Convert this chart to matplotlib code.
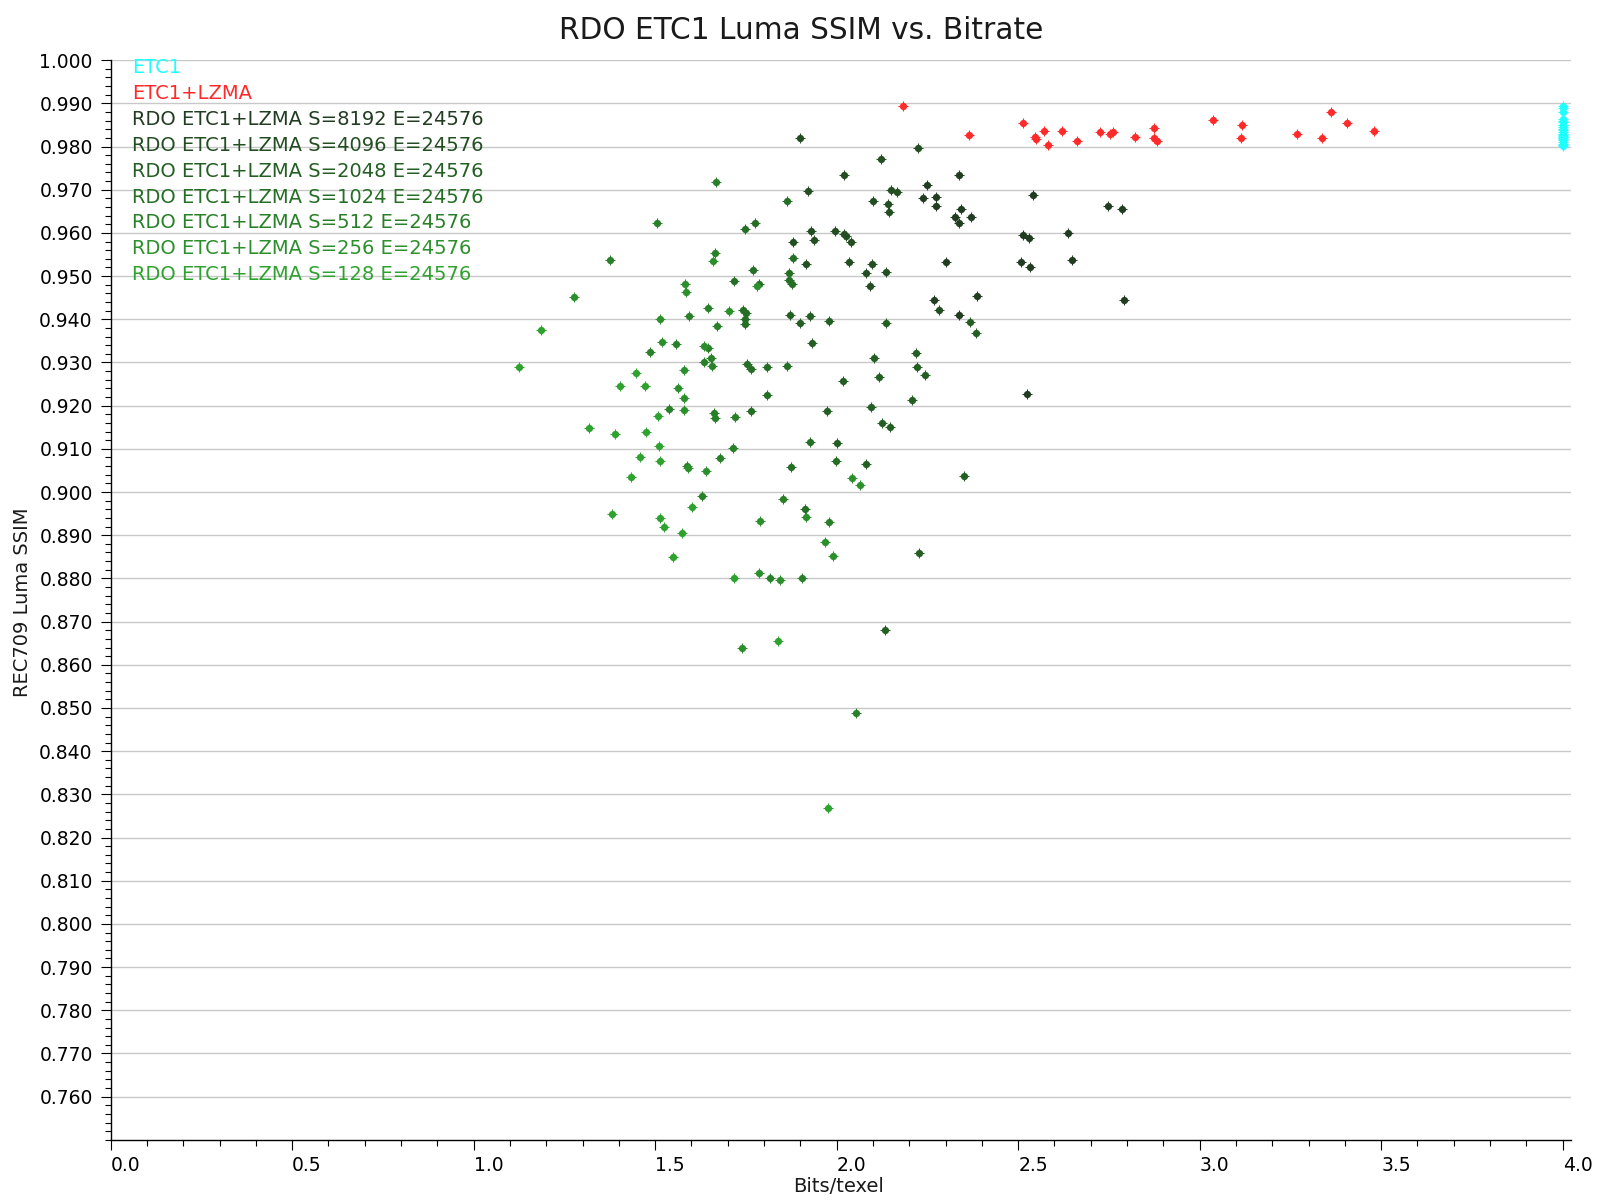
import matplotlib
matplotlib.use("Agg")
import matplotlib.pyplot as plt
from matplotlib.ticker import FixedLocator, MultipleLocator, FormatStrFormatter

# ---------------- data ----------------
etc1_x = [4.0, 4.0, 4.0, 4.0, 4.0, 4.0, 4.0, 4.0, 4.0, 4.0, 4.0, 4.0,
          4.0, 4.0, 4.0, 4.0, 4.0, 4.0, 4.0, 4.0, 4.0, 4.0, 4.0, 4.0]
etc1_y = [0.9893, 0.9890, 0.9881, 0.9863, 0.9860, 0.9857, 0.9851, 0.9850,
          0.9845, 0.9841, 0.9839, 0.9833, 0.9829, 0.9828, 0.9826, 0.9824,
          0.9822, 0.9819, 0.9817, 0.9815, 0.9811, 0.9807, 0.9804, 0.9801]

lzma_x = [2.183, 2.365, 2.514, 2.547, 2.550, 2.570, 2.583, 2.622, 2.661, 2.725,
          2.752, 2.762, 2.823, 2.875, 2.875, 2.883, 3.037, 3.117, 3.115, 3.269,
          3.336, 3.363, 3.407, 3.480]
lzma_y = [0.9893, 0.9826, 0.9854, 0.9821, 0.9818, 0.9835, 0.9803, 0.9837, 0.9812, 0.9833,
          0.9828, 0.9833, 0.9823, 0.9844, 0.9819, 0.9812, 0.9861, 0.9849, 0.9819, 0.9830,
          0.9819, 0.9881, 0.9854, 0.9835]

s8192_x = [2.542, 2.748, 2.787, 2.514, 2.531, 2.638, 2.508, 2.534, 2.647, 2.793,
           2.525, 2.338, 2.250, 2.239, 2.274, 2.274, 2.327, 2.338, 2.343, 2.371,
           2.302, 2.388, 2.268, 2.338]
s8192_y = [0.9687, 0.9663, 0.9656, 0.9596, 0.9589, 0.9601, 0.9533, 0.9522, 0.9538, 0.9445,
           0.9227, 0.9735, 0.9710, 0.9682, 0.9684, 0.9663, 0.9638, 0.9624, 0.9656, 0.9638,
           0.9533, 0.9455, 0.9445, 0.9410]

s4096_x = [1.900, 2.225, 2.123, 2.021, 1.922, 2.150, 2.167, 2.101, 2.142, 2.145,
           1.930, 1.996, 2.021, 2.026, 2.040, 1.880, 1.938, 1.916, 2.035, 2.096,
           2.080, 2.137, 2.093, 2.283]
s4096_y = [0.9819, 0.9796, 0.9772, 0.9735, 0.9698, 0.9700, 0.9694, 0.9673, 0.9668, 0.9649,
           0.9605, 0.9605, 0.9598, 0.9594, 0.9580, 0.9580, 0.9584, 0.9529, 0.9533, 0.9529,
           0.9508, 0.9510, 0.9478, 0.9422]

s2048_x = [2.368, 2.385, 2.208, 2.095, 2.352, 1.872, 1.900, 1.927, 1.933, 2.104,
           2.219, 2.228, 2.137, 2.222, 2.244, 2.117, 2.018, 2.126, 2.148, 2.082,
           1.980, 2.134, 1.974, 2.002]
s2048_y = [0.9394, 0.9369, 0.9213, 0.9197, 0.9037, 0.9410, 0.9392, 0.9408, 0.9345, 0.9311,
           0.9322, 0.8858, 0.9392, 0.9290, 0.9271, 0.9267, 0.9257, 0.9160, 0.9151, 0.9065,
           0.9397, 0.8680, 0.9188, 0.9113]

s1024_x = [1.864, 1.748, 1.776, 1.880, 1.869, 1.869, 1.878, 1.770, 1.718, 1.787,
           1.743, 1.751, 1.748, 1.748, 1.754, 1.765, 1.809, 1.864, 1.809, 1.765,
           1.927, 1.875, 1.999, 1.914]
s1024_y = [0.9673, 0.9608, 0.9624, 0.9543, 0.9508, 0.9492, 0.9482, 0.9515, 0.9489, 0.9482,
           0.9422, 0.9415, 0.9401, 0.9390, 0.9297, 0.9285, 0.9290, 0.9292, 0.9225, 0.9188,
           0.9116, 0.9058, 0.9072, 0.8960]

s512_x = [1.668, 1.506, 1.666, 1.376, 1.646, 1.594, 1.671, 1.558, 1.487, 1.646,
          1.655, 1.635, 1.657, 1.539, 1.663, 1.666, 1.721, 1.715, 1.588, 1.679,
          1.630, 1.853, 1.980, 1.817, 1.905, 2.054]
s512_y = [0.9717, 0.9624, 0.9554, 0.9538, 0.9427, 0.9408, 0.9385, 0.9343, 0.9325, 0.9334,
          0.9311, 0.9301, 0.9292, 0.9192, 0.9183, 0.9171, 0.9174, 0.9102, 0.9060, 0.9079,
          0.8990, 0.8984, 0.8930, 0.8800, 0.8800, 0.8489]

s256_x = [1.660, 1.277, 1.781, 1.583, 1.641, 1.586, 1.704, 1.514, 1.520, 1.635,
          1.580, 1.564, 1.580, 1.580, 1.591, 2.043, 2.065, 1.916, 1.790, 1.969,
          1.991, 1.787, 1.845, 1.740]
s256_y = [0.9536, 0.9452, 0.9478, 0.9482, 0.9048, 0.9464, 0.9420, 0.9401, 0.9348, 0.9338,
          0.9283, 0.9241, 0.9218, 0.9190, 0.9055, 0.9032, 0.9016, 0.8942, 0.8932, 0.8884,
          0.8851, 0.8812, 0.8796, 0.8638]

s128_x = [1.186, 1.126, 1.448, 1.404, 1.473, 1.509, 1.318, 1.390, 1.475, 1.511,
          1.459, 1.514, 1.434, 1.602, 1.382, 1.514, 1.525, 1.575, 1.550, 1.718,
          1.839, 1.977]
s128_y = [0.9376, 0.9290, 0.9276, 0.9246, 0.9246, 0.9176, 0.9148, 0.9134, 0.9139, 0.9107,
          0.9081, 0.9072, 0.9034, 0.8965, 0.8949, 0.8939, 0.8919, 0.8905, 0.8849, 0.8800,
          0.8654, 0.8269]

series_labels = ["ETC1", "ETC1+LZMA",
                 "RDO ETC1+LZMA S=8192 E=24576", "RDO ETC1+LZMA S=4096 E=24576",
                 "RDO ETC1+LZMA S=2048 E=24576", "RDO ETC1+LZMA S=1024 E=24576",
                 "RDO ETC1+LZMA S=512 E=24576", "RDO ETC1+LZMA S=256 E=24576",
                 "RDO ETC1+LZMA S=128 E=24576"]
series_colors = ["#20ffff", "#ff2a2a", "#223c22", "#224e22", "#235e23",
                 "#256e25", "#288028", "#2b902b", "#2ea22e"]
series_data = [(etc1_x, etc1_y), (lzma_x, lzma_y), (s8192_x, s8192_y),
               (s4096_x, s4096_y), (s2048_x, s2048_y), (s1024_x, s1024_y),
               (s512_x, s512_y), (s256_x, s256_y), (s128_x, s128_y)]

title = "RDO ETC1 Luma SSIM vs. Bitrate"
x_label = "Bits/texel"
y_label = "REC709 Luma SSIM"
x_ticks = [0.0, 0.5, 1.0, 1.5, 2.0, 2.5, 3.0, 3.5, 4.0]
y_ticks = [0.76, 0.77, 0.78, 0.79, 0.80, 0.81, 0.82, 0.83, 0.84, 0.85, 0.86, 0.87,
           0.88, 0.89, 0.90, 0.91, 0.92, 0.93, 0.94, 0.95, 0.96, 0.97, 0.98, 0.99, 1.00]

# ---------------- figure ----------------
plt.rcParams['font.family'] = ['DejaVu Sans']
W, H = 1600, 1200
fig = plt.figure(figsize=(16, 12), dpi=100)
ax = fig.add_axes([110.7 / W, 1 - 1139.8 / H, (1570.6 - 110.7) / W, (1139.8 - 60.2) / H])

ax.set_xlim(0.0, 4.022)
ax.set_ylim(0.75, 1.0)

for (xs, ys), col in zip(series_data, series_colors):
    ax.plot(xs, ys, linestyle='none', marker='o', ms=5.2, mfc=col, mec=col, mew=0, zorder=3)
    ax.plot(xs, ys, linestyle='none', marker='+', ms=7.0, mec=col, mew=0.8, zorder=3)

ax.yaxis.set_major_locator(FixedLocator(y_ticks))
ax.yaxis.set_minor_locator(MultipleLocator(0.002))
ax.yaxis.set_major_formatter(FormatStrFormatter('%.3f'))
ax.xaxis.set_major_locator(FixedLocator(x_ticks))
ax.xaxis.set_minor_locator(MultipleLocator(0.1))
ax.xaxis.set_major_formatter(FormatStrFormatter('%.1f'))

ax.grid(axis='y', which='major', color='#c8c8c8', linewidth=1.0, zorder=0)
ax.set_axisbelow(True)
for side in ('top', 'right'):
    ax.spines[side].set_visible(False)
for side in ('left', 'bottom'):
    ax.spines[side].set_linewidth(1.0)
    ax.spines[side].set_color('black')

ax.tick_params(axis='both', which='major', length=7.5, width=0.8, direction='out',
               labelsize=13.5, colors='black')
ax.tick_params(axis='both', which='minor', length=4.5, width=0.8, direction='out')
ax.tick_params(axis='y', which='major', pad=5.5)
ax.tick_params(axis='x', which='major', pad=4.5)
for lab in ax.get_xticklabels():
    lab.set_horizontalalignment('left')

fig.text(801.5 / W, 1 - 30.6 / H, title, ha='center', va='center', fontsize=21.3, color='#1a1a1a')
fig.text(838.8 / W, 1 - 1186.7 / H, x_label, ha='center', va='center', fontsize=14, color='#1a1a1a')
fig.text(22.4 / W, 1 - 602 / H, y_label, ha='center', va='center', rotation=90, fontsize=14,
         color='#1a1a1a')

legend_top = 67.3
legend_step = 25.95
for i, (lab, col) in enumerate(zip(series_labels, series_colors)):
    fig.text(132.3 / W, 1 - (legend_top + i * legend_step) / H, lab, ha='left', va='center',
             fontsize=14, color=col)

fig.savefig("out.png", dpi=100)
